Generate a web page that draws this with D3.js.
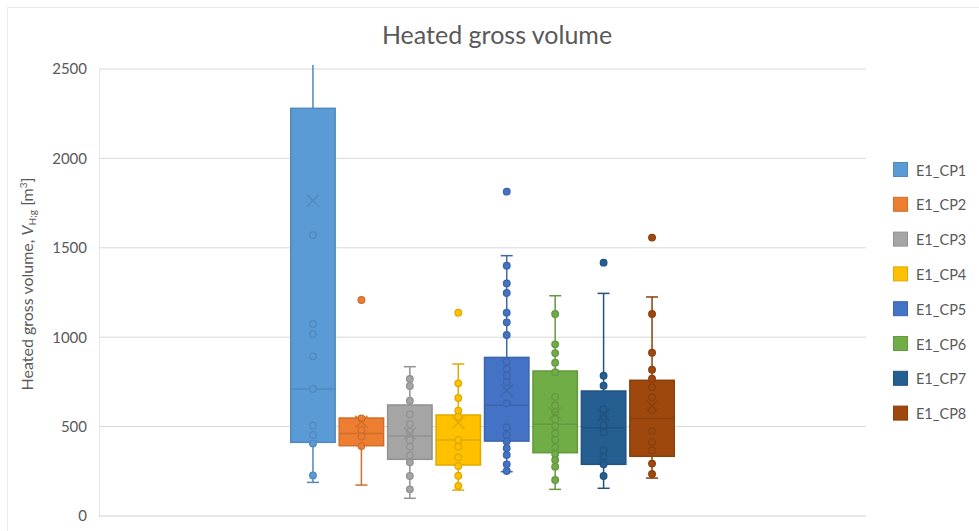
<!DOCTYPE html>
<html>
<head>
<meta charset="utf-8">
<script src="https://cdn.jsdelivr.net/npm/d3@7"></script>
<style>
  html, body { margin: 0; padding: 0; background: #fff; }
  svg { display: block; font-family: Lato, "Open Sans", sans-serif; }
</style>
</head>
<body>
<svg id="chart" width="979" height="531"></svg>
<script>
// Series names and colours
const series = ["E1_CP1", "E1_CP2", "E1_CP3", "E1_CP4", "E1_CP5", "E1_CP6", "E1_CP7", "E1_CP8"];
const colors = ["#5B9BD5", "#ED7D31", "#A5A5A5", "#FFC000", "#4472C4", "#70AD47", "#255E91", "#9E480E"];

// Box statistics per series (m³)
const whiskerLow  = [188, 173, 99, 145, 248, 149, 155, 212];
const quartile1   = [412, 393, 317, 285, 419, 354, 289, 334];
const median      = [710, 462, 447, 425, 619, 513, 494, 546];
const quartile3   = [2280, 548, 621, 565, 887, 811, 699, 759];
const whiskerHigh = [2600, 548, 835, 850, 1456, 1232, 1245, 1225];
const mean        = [1763, 527, 462, 522, 701, 574, 565, 615];

// Individual observations per series (m³)
const pointsCP1 = [1571, 1074, 1018, 893, 710, 505, 453, 406, 227];
const pointsCP2 = [1208, 546, 481, 444, 391];
const pointsCP3 = [766, 727, 645, 569, 515, 472, 425, 388, 339, 300, 224, 149];
const pointsCP4 = [1137, 742, 660, 589, 555, 425, 388, 328, 280, 225, 168];
const pointsCP5 = [1814, 1400, 1301, 1247, 1137, 1083, 1012, 863, 822, 785, 748, 630, 496, 453, 416, 379, 341, 289, 252];
const pointsCP6 = [1130, 960, 911, 857, 804, 666, 619, 582, 541, 503, 462, 425, 384, 347, 313, 276, 201];
const pointsCP7 = [1417, 785, 729, 597, 555, 509, 468, 369, 332, 289, 224];
const pointsCP8 = [1557, 1130, 913, 818, 768, 720, 664, 591, 475, 414, 367, 293, 235];
const points = [pointsCP1, pointsCP2, pointsCP3, pointsCP4, pointsCP5, pointsCP6, pointsCP7, pointsCP8];

const yTicks = [0, 500, 1000, 1500, 2000, 2500];
const category = [""];

const textColor = "#595959";
const gridColor = "#d9d9d9";

const svg = d3.select("#chart");
const plot = { left: 99, right: 866, top: 69, bottom: 516 };

// Outer chart frame
svg.append("rect")
  .attr("x", 7.5).attr("y", 7.5).attr("width", 990).attr("height", 540)
  .attr("fill", "none").attr("stroke", "#ececec");

// Title
svg.append("text")
  .attr("x", 497).attr("y", 44)
  .attr("text-anchor", "middle")
  .attr("fill", textColor)
  .attr("font-size", 25)
  .text("Heated gross volume");

const y = d3.scaleLinear().domain([0, 2500]).range([plot.bottom, plot.top]);
const x0 = d3.scaleBand().domain(category).range([plot.left, plot.right])
  .paddingInner(0.5).paddingOuter(0.25);
const x1 = d3.scaleBand().domain(series)
  .range([x0(category[0]), x0(category[0]) + x0.bandwidth()])
  .paddingInner(0.083).paddingOuter(0);

// Gridlines
svg.append("g")
  .selectAll("line").data(yTicks.filter(d => d > 0)).join("line")
  .attr("x1", plot.left).attr("x2", plot.right)
  .attr("y1", d => y(d)).attr("y2", d => y(d))
  .attr("stroke", gridColor).attr("stroke-width", 1);

// Y axis (labels only, with a faint axis line)
const yAxis = svg.append("g")
  .attr("transform", `translate(${plot.left},0)`)
  .call(d3.axisLeft(y).tickValues(yTicks).tickSize(0).tickPadding(12).tickFormat(d3.format("d")));
yAxis.select(".domain").attr("stroke", "#e6e6e6");
yAxis.selectAll("text").attr("fill", textColor).attr("font-size", 15)
  .attr("font-family", "Lato, 'Open Sans', sans-serif");

// Bottom axis line
svg.append("line")
  .attr("x1", plot.left).attr("x2", plot.right)
  .attr("y1", y(0)).attr("y2", y(0))
  .attr("stroke", "#d0d0d0").attr("stroke-width", 1.2);

// Y axis title
const yTitle = svg.append("text")
  .attr("transform", `translate(33,284) rotate(-90)`)
  .attr("text-anchor", "middle")
  .attr("fill", textColor)
  .attr("font-size", 16);
yTitle.append("tspan").text("Heated gross volume, ");
yTitle.append("tspan").attr("font-style", "italic").text("V");
yTitle.append("tspan").attr("font-size", 10).attr("dy", 3).text("H;g");
yTitle.append("tspan").attr("dy", -3).text(" [m");
yTitle.append("tspan").attr("font-size", 10).attr("dy", -6).text("3");
yTitle.append("tspan").attr("dy", 6).text("]");

// Clip region for marks (lets the top whisker run just past 2500)
svg.append("clipPath").attr("id", "plotClip")
  .append("rect").attr("x", plot.left).attr("y", plot.top - 4)
  .attr("width", plot.right - plot.left).attr("height", plot.bottom - plot.top + 10);

const marks = svg.append("g").attr("clip-path", "url(#plotClip)");
const capW = 12;

series.forEach((name, i) => {
  const c = colors[i];
  const dark = d3.color(c).darker(0.35).formatHex();
  const bx = x1(name);
  const bw = x1.bandwidth();
  const cx = bx + bw / 2;
  const g = marks.append("g");

  // Whiskers
  g.append("line").attr("x1", cx).attr("x2", cx)
    .attr("y1", y(quartile3[i])).attr("y2", y(whiskerHigh[i]))
    .attr("stroke", dark).attr("stroke-width", 1.5);
  g.append("line").attr("x1", cx).attr("x2", cx)
    .attr("y1", y(quartile1[i])).attr("y2", y(whiskerLow[i]))
    .attr("stroke", dark).attr("stroke-width", 1.5);
  [whiskerLow[i], whiskerHigh[i]].forEach(v => {
    g.append("line").attr("x1", cx - capW / 2).attr("x2", cx + capW / 2)
      .attr("y1", y(v)).attr("y2", y(v))
      .attr("stroke", dark).attr("stroke-width", 1.5);
  });

  // Box
  g.append("rect")
    .attr("x", bx).attr("y", y(quartile3[i]))
    .attr("width", bw).attr("height", y(quartile1[i]) - y(quartile3[i]))
    .attr("fill", c).attr("stroke", dark).attr("stroke-width", 1.5);

  // Median
  g.append("line").attr("x1", bx).attr("x2", bx + bw)
    .attr("y1", y(median[i])).attr("y2", y(median[i]))
    .attr("stroke", dark).attr("stroke-width", 1.5);

  // Observations
  g.selectAll("circle").data(points[i]).join("circle")
    .attr("cx", cx).attr("cy", d => y(d)).attr("r", 3.3)
    .attr("fill", c).attr("stroke", dark).attr("stroke-width", 1.3);

  // Mean marker
  const my = y(mean[i]);
  const s = 6;
  g.append("path")
    .attr("d", `M${cx - s},${my - s}L${cx + s},${my + s}M${cx - s},${my + s}L${cx + s},${my - s}`)
    .attr("stroke", dark).attr("stroke-width", 1.3).attr("fill", "none");
});

// Legend
const legend = svg.append("g").attr("transform", "translate(893,170)");
series.forEach((name, i) => {
  const row = legend.append("g").attr("transform", `translate(0,${i * 34.8})`);
  row.append("rect").attr("x", 0.5).attr("y", -7.5).attr("width", 14).attr("height", 14)
    .attr("fill", colors[i]).attr("stroke", d3.color(colors[i]).darker(0.35).formatHex());
  row.append("text").attr("x", 23).attr("y", 5.5)
    .attr("fill", textColor).attr("font-size", 14.5).text(name);
});
</script>
</body>
</html>
